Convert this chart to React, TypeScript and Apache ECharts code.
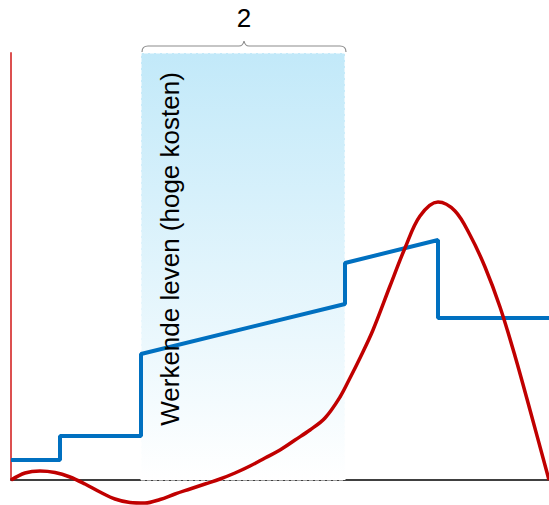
import React, { useEffect, useRef } from 'react';
import * as echarts from 'echarts';

// Axis extents (chart units)
const X_MAX = 538;
const Y_MAX = 427;

// Blue step line: costs over the life course
const costX = [0, 49, 49, 130, 130, 334, 334, 427, 427, 538];
const costY = [20, 20, 44, 44, 126, 176, 217, 240, 162, 162];

// Red curve: income / net value over the life course
const incomeX = [0, 14, 29, 44, 59, 74, 89, 104, 119, 134, 149, 164, 179, 194, 209, 224, 239, 254, 269, 284, 299, 314, 329, 339, 349, 362, 379, 394, 409, 427, 444, 459, 474, 489, 504, 519, 538];
const incomeY = [0, 7, 9, 7.5, 3, -4, -12, -19, -22.5, -23, -19.5, -14, -9, -4, 1, 7, 14, 22, 30, 40, 50, 62, 83, 102, 122, 150, 194, 232, 264, 278, 269, 245, 213, 173, 124, 70, 0];

// Highlighted phase
const phaseStart = 130;
const phaseEnd = 334;
const phaseNumber = '2';
const phaseText = 'Werkende leven (hoge kosten)';

const FONT = '"Liberation Sans", Arial, Helvetica, sans-serif';

export default function App() {
  const ref = useRef<HTMLDivElement>(null);

  useEffect(() => {
    if (!ref.current) return;
    const chart = echarts.init(ref.current, undefined, { renderer: 'svg' });
    const cost = costX.map((x, i) => [x, costY[i]]);
    const income = incomeX.map((x, i) => [x, incomeY[i]]);

    chart.setOption({
      animation: false,
      grid: { left: 11, right: 0, top: 53, bottom: 25, containLabel: false },
      xAxis: {
        type: 'value', min: 0, max: X_MAX,
        axisLine: { show: true, onZero: false, lineStyle: { color: '#000', width: 1.5 } },
        axisTick: { show: false }, axisLabel: { show: false }, splitLine: { show: false },
      },
      yAxis: {
        type: 'value', min: 0, max: Y_MAX,
        axisLine: { show: true, lineStyle: { color: '#dc5050', width: 2 } },
        axisTick: { show: false }, axisLabel: { show: false }, splitLine: { show: false },
      },
      series: [
        {
          type: 'line', data: [], z: 1, silent: true,
          markArea: {
            silent: true,
            itemStyle: {
              color: new echarts.graphic.LinearGradient(0, 0, 0, 1, [
                { offset: 0, color: '#c2e9f9' },
                { offset: 1, color: '#ffffff' },
              ]),
              borderColor: '#ffffff', borderWidth: 1, borderType: 'dashed',
            },
            data: [[{ coord: [phaseStart, 0] }, { coord: [phaseEnd, Y_MAX + 1] }]],
          },
        },
        {
          type: 'line', data: cost, z: 3, showSymbol: false, clip: false,
          lineStyle: { color: '#0070c0', width: 4 },
        },
        {
          type: 'line', data: income, z: 4, showSymbol: false, clip: false,
          smooth: 0.35,
          lineStyle: { color: '#c00000', width: 3.5 },
        },
      ],
    });

    const p1 = chart.convertToPixel({ gridIndex: 0 }, [phaseStart, Y_MAX]) as number[];
    const p2 = chart.convertToPixel({ gridIndex: 0 }, [phaseEnd, Y_MAX]) as number[];
    const x1 = p1[0] + 1, x2 = p2[0] + 1;
    const yEnd = p1[1] - 1;
    const yTop = yEnd - 6;
    const peak = yTop - 5;
    const mid = (x1 + x2) / 2;
    const d = `M${x1} ${yEnd} Q${x1} ${yTop} ${x1 + 6} ${yTop} L${mid - 5} ${yTop} Q${mid - 1} ${yTop} ${mid} ${peak} Q${mid + 1} ${yTop} ${mid + 5} ${yTop} L${x2 - 6} ${yTop} Q${x2} ${yTop} ${x2} ${yEnd}`;
    echarts.graphic.registerShape('brace', echarts.graphic.extendPath(d, {}));

    const bottom = chart.convertToPixel({ gridIndex: 0 }, [phaseStart, 0]) as number[];

    chart.setOption({
      graphic: [
        { type: 'brace', x: 0, y: 0, z: 10, style: { stroke: '#8c8c8c', fill: 'none', lineWidth: 1.2 } },
        {
          type: 'text', x: mid, y: peak - 23, z: 10,
          style: { text: phaseNumber, fill: '#000', font: `26px ${FONT}`, align: 'center', verticalAlign: 'middle' },
        },
        {
          type: 'text', x: x1 + 28, y: (yEnd + bottom[1]) / 2 - 17, rotation: Math.PI / 2, z: 100,
          style: { text: phaseText, fill: '#000', font: `26px ${FONT}`, align: 'center', verticalAlign: 'middle' },
        },
      ],
    });

    return () => chart.dispose();
  }, []);

  return <div ref={ref} style={{ width: 549, height: 505, position: 'absolute', left: 0, top: 0 }} />;
}
